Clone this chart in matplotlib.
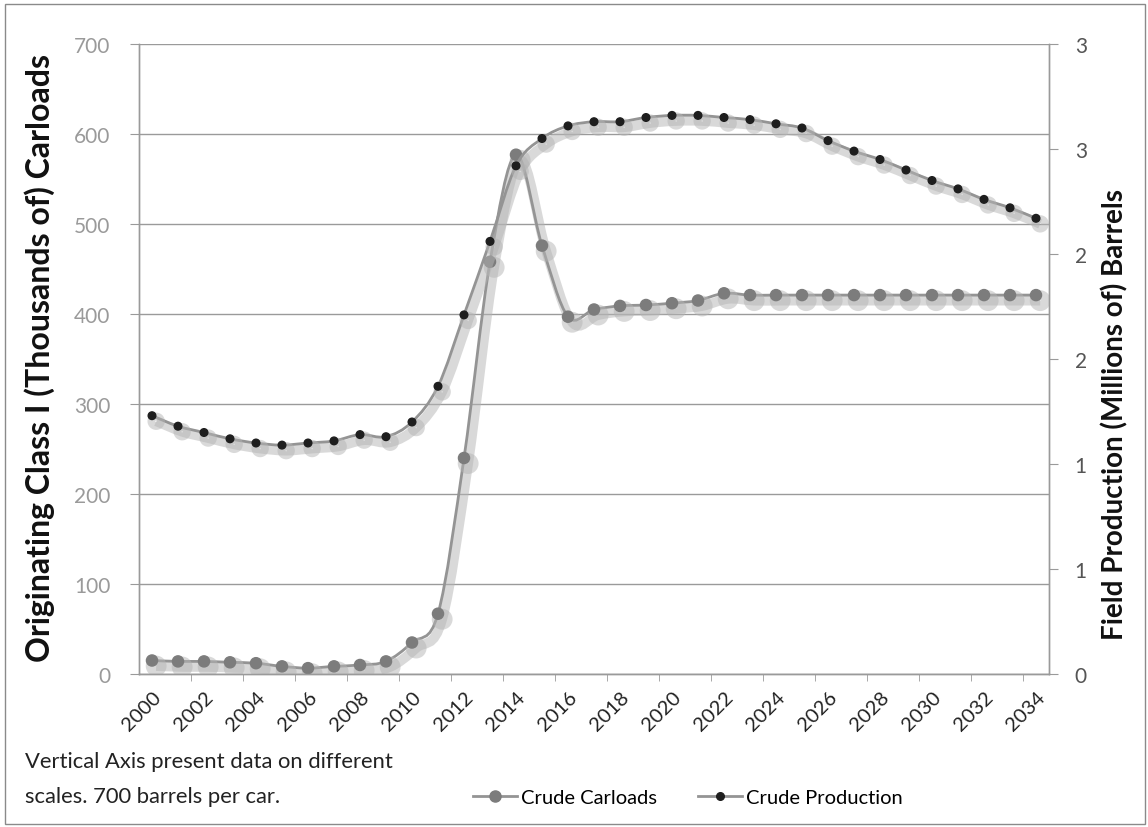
import matplotlib
matplotlib.use("Agg")
import matplotlib.pyplot as plt
import matplotlib.patheffects as pe
from matplotlib.patches import Rectangle, PathPatch
from matplotlib.path import Path
from matplotlib.lines import Line2D

plt.rcParams['font.family'] = ['Lato', 'DejaVu Sans']

years = list(range(2000, 2035))
# thousands of originating carloads (left axis)
carloads = [15, 14, 14, 13, 12, 8.5, 6.5, 8.5, 10, 14, 35, 67, 240, 458, 577,
            476, 397, 405, 409, 410, 412, 415, 423, 421, 421, 421, 421, 421,
            421, 421, 421, 421, 421, 421, 421]
# millions of barrels (right axis)
production = [1.23, 1.18, 1.15, 1.12, 1.10, 1.09, 1.10, 1.11, 1.14, 1.13, 1.20,
              1.37, 1.71, 2.06, 2.42, 2.55, 2.61, 2.63, 2.63, 2.65, 2.66, 2.66,
              2.65, 2.64, 2.62, 2.60, 2.54, 2.49, 2.45, 2.40, 2.35, 2.31, 2.26,
              2.22, 2.17]
left_ticks = [0, 100, 200, 300, 400, 500, 600, 700]
right_ticks = [0, 0.5, 1, 1.5, 2, 2.5, 3]
right_labels = ["0", "1", "1", "2", "2", "3", "3"]


def smooth_path(xs, ys):
    # Excel-style smoothed line: Catmull-Rom segments as cubic Beziers
    pts = list(zip(xs, ys))
    verts = [pts[0]]
    codes = [Path.MOVETO]
    n = len(pts)
    for i in range(n - 1):
        p0 = pts[max(i - 1, 0)]
        p1 = pts[i]
        p2 = pts[i + 1]
        p3 = pts[min(i + 2, n - 1)]
        c1 = (p1[0] + (p2[0] - p0[0]) / 6, p1[1] + (p2[1] - p0[1]) / 6)
        c2 = (p2[0] - (p3[0] - p1[0]) / 6, p2[1] - (p3[1] - p1[1]) / 6)
        verts += [c1, c2, p2]
        codes += [Path.CURVE4] * 3
    return Path(verts, codes)


W, H = 1148, 828
fig = plt.figure(figsize=(W / 100, H / 100), dpi=100)
fig.patches.append(Rectangle((5 / W, 3 / H), 1140 / W, 820 / H, transform=fig.transFigure,
                             fill=False, edgecolor='#8a8a8a', linewidth=1))

ax = fig.add_axes([139 / W, (H - 675) / H, 910 / W, 630 / H])
ax2 = ax.twinx()

x = list(range(len(years)))
shadow = [pe.SimpleLineShadow(offset=(3, -4), shadow_color='#b4b4b4', alpha=0.5, linewidth=7),
          pe.Normal()]
line_col = '#949494'

ax.add_patch(PathPatch(smooth_path(x, carloads), fill=False, edgecolor=line_col, lw=2,
                       path_effects=shadow, zorder=3))
ax.plot(x, carloads, ls='none', marker='o', ms=8, mfc='#7c7c7c', mec='#7c7c7c',
        path_effects=shadow, zorder=4)
ax2.add_patch(PathPatch(smooth_path(x, production), fill=False, edgecolor=line_col, lw=2,
                        path_effects=shadow, zorder=3))
ax2.plot(x, production, ls='none', marker='o', ms=5.5, mfc='#1e1e1e', mec='#1e1e1e',
         path_effects=shadow, zorder=4)

ax.set_xlim(-0.5, len(years) - 0.5)
ax.set_ylim(0, 700)
ax2.set_ylim(0, 3)
ax.set_yticks(left_ticks)
ax.set_yticklabels([str(t) for t in left_ticks], color='#9a9a9a', fontsize=15)
ax2.set_yticks(right_ticks)
ax2.set_yticklabels(right_labels, color='#555555', fontsize=15)
ax.grid(axis='y', color='#9a9a9a', lw=1)
ax.set_axisbelow(True)

ax.set_xticks(x[::2])
ax.set_xticklabels([str(y) for y in years[::2]], rotation=45, ha='right', va='top',
                   rotation_mode='anchor', fontsize=14.5, color='#222222')
ax.set_xticks([b - 0.5 for b in range(2, len(years), 2)], minor=True)
ax.tick_params(axis='x', which='major', length=0, pad=10)
ax.tick_params(axis='x', which='minor', length=5, color='#9a9a9a')

ax.tick_params(axis='y', length=6.5, color='#9a9a9a', pad=14)
ax2.tick_params(axis='y', length=6.5, color='#9a9a9a', pad=12)

for a in (ax, ax2):
    a.spines['top'].set_visible(False)
    for s in ('left', 'right', 'bottom'):
        a.spines[s].set_color('#9a9a9a')
        a.spines[s].set_linewidth(1)
ax.spines['left'].set_linestyle((0, (2, 1)))
ax2.spines['right'].set_linestyle((0, (2, 1)))

fig.text(40 / W, 1 - 358 / H, "Originating Class I (Thousands of) Carloads", rotation=90,
         ha='center', va='center', fontsize=23, fontweight='bold', color='#111111')
fig.text(1115 / W, 1 - 414 / H, "Field Production (Millions of) Barrels", rotation=90,
         ha='center', va='center', fontsize=20, fontweight='bold', color='#111111')

fig.text(25 / W, 1 - 762 / H, "Vertical Axis present data on different", fontsize=15.8,
         va='center', color='#222222')
fig.text(25 / W, 1 - 797 / H, "scales. 700 barrels per car.", fontsize=15.8,
         va='center', color='#222222')

handles = [Line2D([], [], color=line_col, lw=2, marker='o', ms=8, mfc='#7c7c7c', mec='#7c7c7c'),
           Line2D([], [], color=line_col, lw=2, marker='o', ms=5.5, mfc='#1e1e1e', mec='#1e1e1e')]
fig.legend(handles, ["Crude Carloads", "Crude Production"], loc='center',
           bbox_to_anchor=(688 / W, 1 - 798 / H), ncol=2, frameon=False, fontsize=14.5,
           handlelength=2.2, handletextpad=0.2, columnspacing=2.0)

fig.savefig("out.png", dpi=100)
